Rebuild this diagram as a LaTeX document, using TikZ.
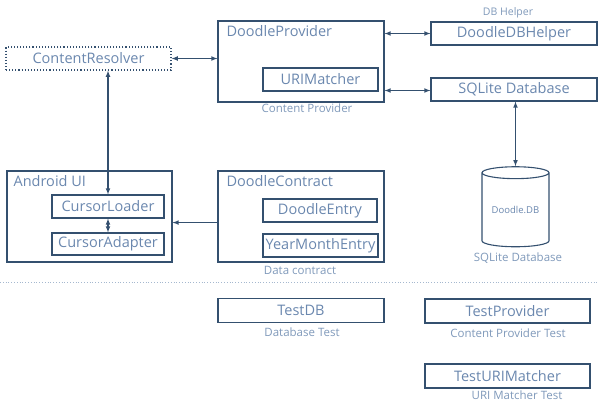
\documentclass[tikz,border=0pt]{standalone}
\usepackage{fontspec}
\setmainfont{Open Sans}
\usepackage{xcolor}
\usetikzlibrary{shapes,shapes.geometric,arrows,positioning,calc}

\definecolor{linecol}{HTML}{34506F}
\definecolor{textcol}{HTML}{6A87AE}
\definecolor{notecol}{HTML}{7F99BA}

\begin{document}
\begin{tikzpicture}[
    x=1pt, y=-1pt,
    >=latex,
    every node/.style={text=textcol},
    box/.style={draw=linecol, line width=1.1pt, minimum width=166pt, minimum height=23pt, inner sep=0pt, font=\fontsize{14.5}{16}\selectfont},
    inbox/.style={box, minimum width=114pt},
    group/.style={draw=linecol, line width=1.1pt, minimum width=166pt, inner sep=0pt},
    title/.style={anchor=north west, inner sep=0pt, font=\fontsize{14.5}{16}\selectfont},
    note/.style={text=notecol, inner sep=0pt, font=\fontsize{11.5}{13}\selectfont},
    db/.style={cylinder, shape border rotate=90, draw=linecol, line width=1.1pt, aspect=0.25, minimum width=67pt, minimum height=80pt, inner sep=0pt, font=\fontsize{9.5}{11}\selectfont},
    link/.style={<->, draw=linecol, line width=1.1pt},
    separator/.style={draw=notecol!70, line width=0.8pt, dotted}
]
\useasboundingbox (0,0) rectangle (600,405);

\node[box, dotted, line width=1.3pt, minimum width=165pt] (resolver) at (88.5,58.5) {ContentResolver};

\node[group, minimum height=81pt] (provider) at (301,61.5) {};
\node[title] (providertitle) at ([shift={(9pt,-4.5pt)}]provider.north west) {DoodleProvider};
\node[inbox, minimum width=115pt] (urimatcher) at (320.5,79.5) {URIMatcher};
\node[note] (providernote) at (307,108) {Content Provider};

\node[box] (helper) at (514,33.5) {DoodleDBHelper};
\node[note, font=\fontsize{10.5}{12}\selectfont] (helpernote) at (508,13) {DB Helper};
\node[box] (sqlite) at (514,89.5) {SQLite Database};

\node[db] (doodledb) at (515.5,210) {Doodle.DB};
\node[note] (dbnote) at (518,258) {SQLite Database};

\node[group, minimum width=165pt, minimum height=91pt] (androidui) at (89.5,216.5) {};
\node[title] (androidtitle) at ([shift={(7pt,-4.5pt)}]androidui.north west) {Android UI};
\node[inbox, minimum width=112pt] (loader) at (108,206.5) {CursorLoader};
\node[inbox, minimum width=112pt, minimum height=22pt] (adapter) at (108,244) {CursorAdapter};

\node[group, minimum height=91pt] (contract) at (301,216.5) {};
\node[title] (contracttitle) at ([shift={(9pt,-4.5pt)}]contract.north west) {DoodleContract};
\node[inbox] (doodleentry) at (320,210.5) {DoodleEntry};
\node[inbox, minimum width=115pt] (yearmonth) at (320.5,245.5) {YearMonthEntry};
\node[note] (contractnote) at (300,270) {Data contract};

\draw[separator] (0,282) -- (597,282);

\node[box, minimum height=24pt] (testdb) at (301,310.5) {TestDB};
\node[note] (testdbnote) at (302,332) {Database Test};
\node[box, minimum width=165pt, minimum height=24pt] (testprovider) at (507.5,311) {TestProvider};
\node[note] (testprovidernote) at (508,333) {Content Provider Test};
\node[box, minimum width=165pt, minimum height=24pt] (testmatcher) at (507.5,376) {TestURIMatcher};
\node[note] (testmatchernote) at (517,395) {URI Matcher Test};

\draw[link] (resolver.east) -- (resolver.east -| provider.west);
\draw[link] (helper.west -| provider.east) -- (helper.west);
\draw[link] ($(sqlite.west -| provider.east)+(0,1)$) -- ($(sqlite.west)+(0,1)$);
\draw[link] (sqlite.south -| doodledb.top) -- (doodledb.top);
\draw[link] (loader.north |- resolver.south) -- (loader.north);
\draw[link] (loader.south) -- (adapter.north);
\draw[->, draw=linecol, line width=1.1pt] (doodleentry.south -| contract.west) -- (doodleentry.south -| androidui.east);

\end{tikzpicture}
\end{document}
